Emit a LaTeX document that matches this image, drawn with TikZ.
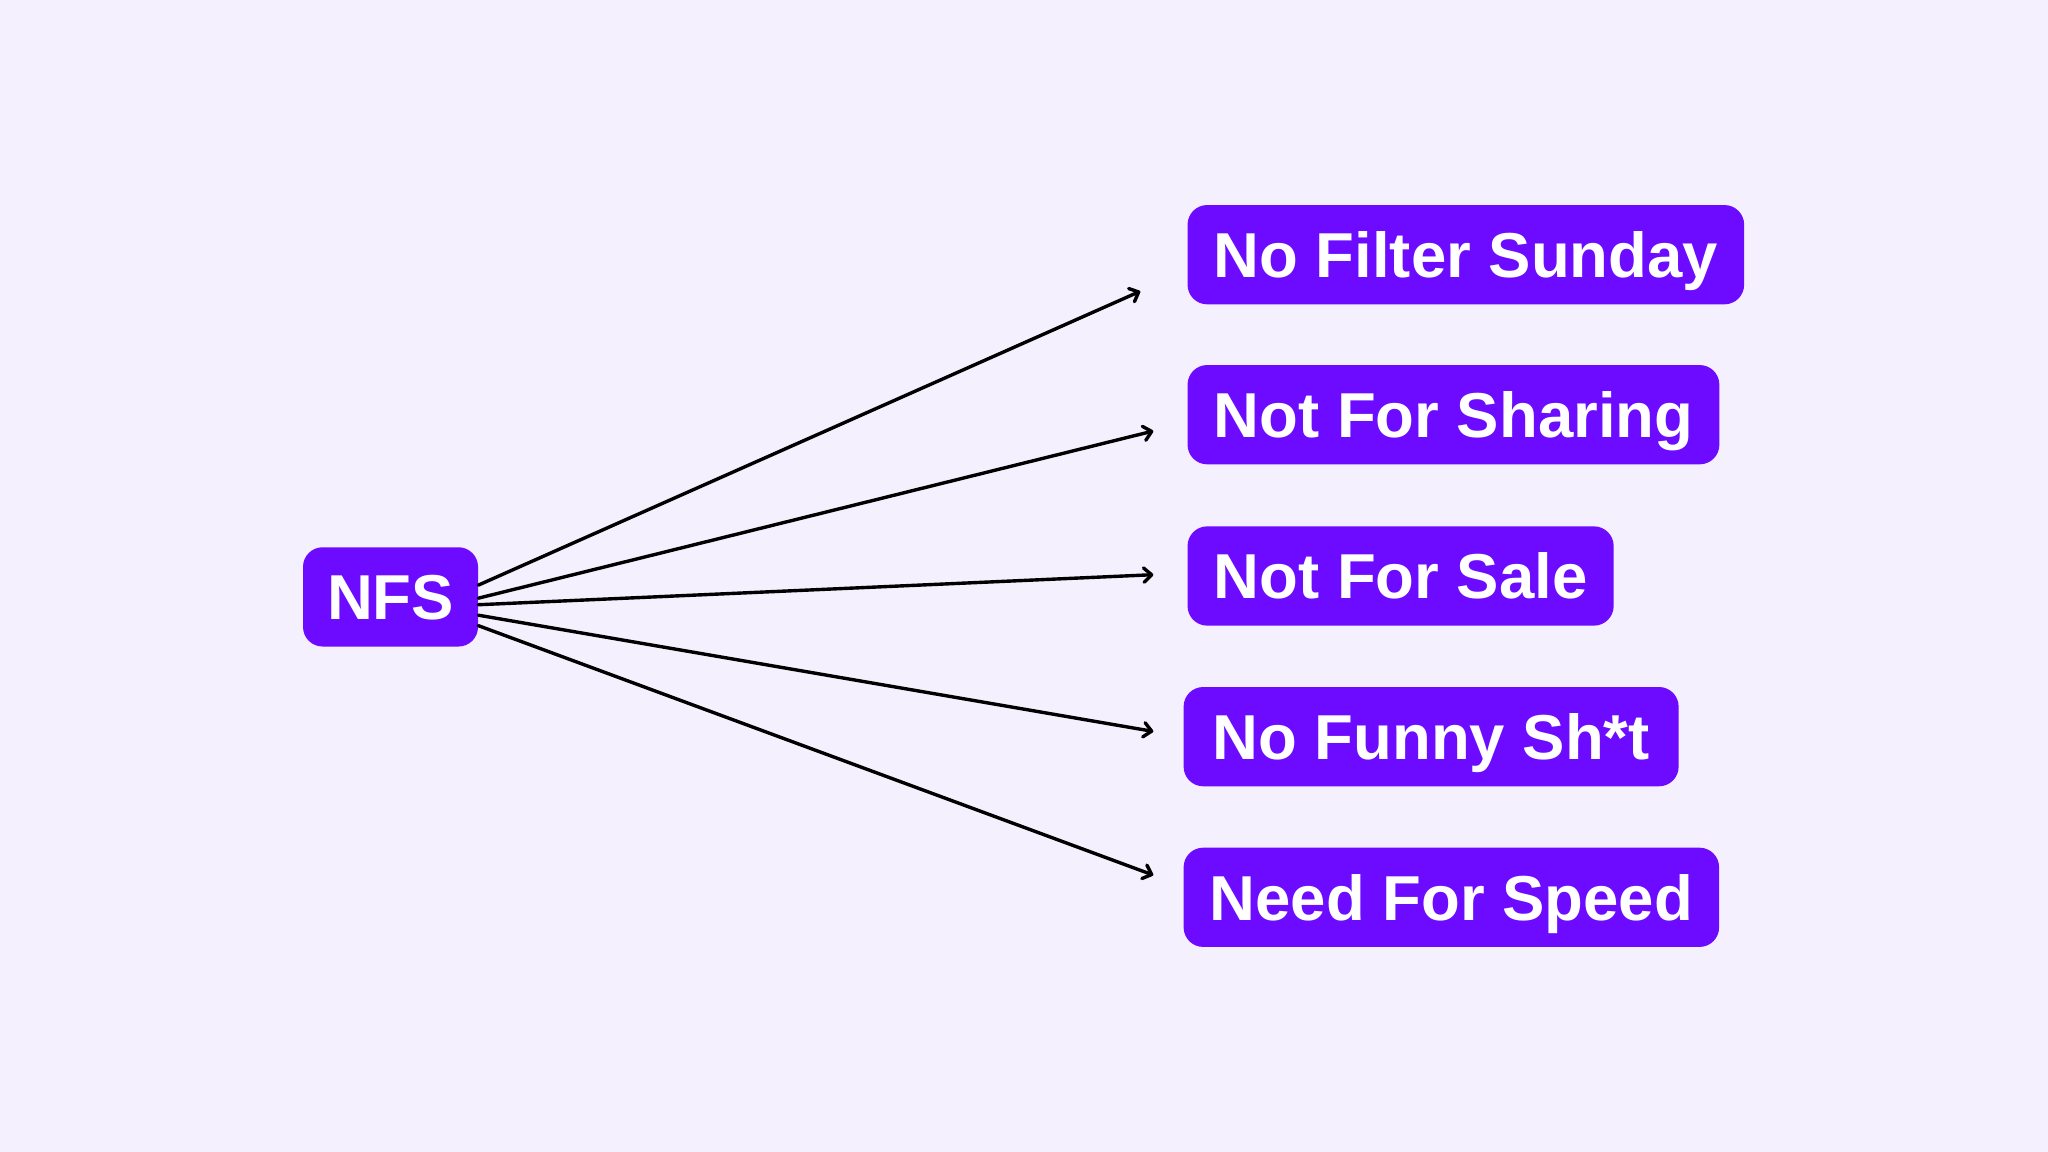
\documentclass[tikz,border=0pt]{standalone}
\usepackage{fontspec}
\setmainfont{Liberation Sans}
\usetikzlibrary{arrows.meta}
\definecolor{bgc}{HTML}{F5F0FE}
\definecolor{boxc}{HTML}{6C0BFF}
\tikzset{
  lbl/.style={fill=boxc, text=white, rounded corners=15pt, font=\bfseries\fontsize{48.6pt}{58pt}\selectfont,
    text height=35pt, text depth=0pt, inner ysep=20.5pt, inner xsep=20pt, anchor=west, align=left},
  conn/.style={draw=black, line width=2.6pt, line cap=round,
    -{Straight Barb[length=6pt,width=11pt,line cap=round,line join=round]}}
}
\begin{document}
\begin{tikzpicture}[x=1pt,y=-1pt]
\fill[bgc] (0,0) rectangle (1568,882);
\useasboundingbox (0,0) rectangle (1568,882);
\node[lbl, minimum width=134pt, inner xsep=0pt, anchor=center] (nfs) at (299,457) {NFS};
\node[lbl] (b1) at (909,195) {No Filter Sunday};
\node[lbl] (b2) at (909,317.5) {Not For Sharing};
\node[lbl] (b3) at (909,441) {Not For Sale};
\node[lbl, minimum width=379pt] (b4) at (906,564) {No Funny Sh*t\hfill};
\node[lbl] (b5) at (906,687) {Need For Speed};
\coordinate (e1) at (873,223);
\coordinate (e2) at (883,330);
\coordinate (e3) at (883,440);
\coordinate (e4) at (883,560);
\coordinate (e5) at (883,670);
\draw[conn] ([yshift=9pt]nfs.east) -- (e1);
\draw[conn] ([yshift=-1pt]nfs.east) -- (e2);
\draw[conn] ([yshift=-6pt]nfs.east) -- (e3);
\draw[conn] ([yshift=-14pt]nfs.east) -- (e4);
\draw[conn] ([yshift=-22pt]nfs.east) -- (e5);
\end{tikzpicture}
\end{document}
